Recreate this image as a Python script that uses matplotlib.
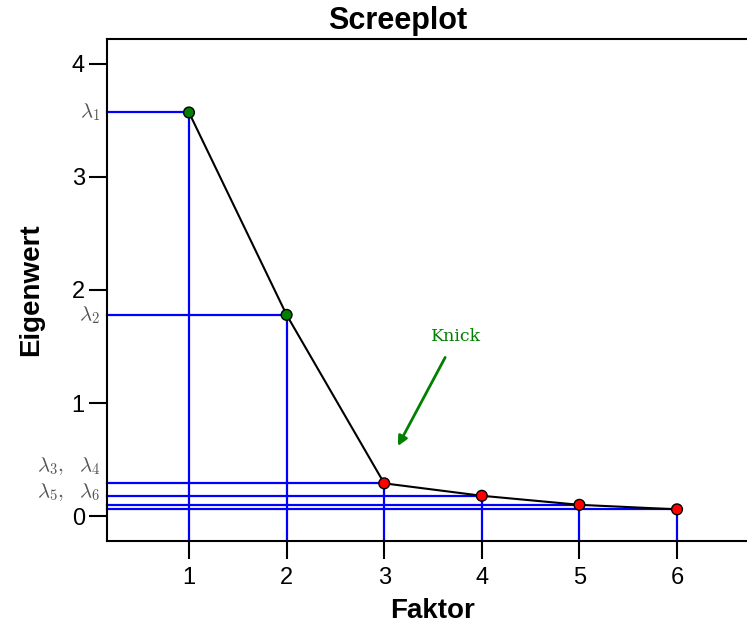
import matplotlib
matplotlib.use("Agg")
import matplotlib.pyplot as plt

faktor = [1, 2, 3, 4, 5, 6]
eigenwert = [3.57, 1.78, 0.29, 0.18, 0.10, 0.06]
point_colors = ["green", "green", "red", "red", "red", "red"]
lambda_labels = [r"$\lambda_1$", r"$\lambda_2$", r"$\lambda_3,\ \ \lambda_4$", r"$\lambda_5,\ \ \lambda_6$"]
lambda_label_y = [3.57, 1.78, 0.44, 0.21]
yticks = [0, 1, 2, 3, 4]
xticks = [1, 2, 3, 4, 5, 6]

plt.rcParams["font.family"] = ["Liberation Sans", "DejaVu Sans"]
plt.rcParams["mathtext.fontset"] = "cm"

fig = plt.figure(figsize=(7.47, 6.25), dpi=100)
ax = fig.add_axes([107/747, 84/625, 652/747, 502/625])
xlo, xhi = 0.16, 6.84
ylo, yhi = -0.22, 4.22
ax.set_xlim(xlo, xhi)
ax.set_ylim(ylo, yhi)

for x, y in zip(faktor, eigenwert):
    ax.plot([xlo, x], [y, y], color="blue", lw=1.6, zorder=2, clip_on=False)
    ax.plot([x, x], [ylo, y], color="blue", lw=1.6, zorder=2, clip_on=False)

ax.plot(faktor, eigenwert, color="black", lw=1.5, zorder=3)
ax.scatter(faktor, eigenwert, c=point_colors, edgecolors="black", s=60, linewidths=1.0, zorder=4)

for lab, y in zip(lambda_labels, lambda_label_y):
    ax.text(xlo - 0.07, y, lab, ha="right", va="center", fontsize=15, color="#555555")

ax.annotate("Knick", xy=(3.14, 0.62), xytext=(3.74, 1.59), ha="center", va="center",
            fontsize=12.5, color="green", family="DejaVu Serif",
            arrowprops=dict(arrowstyle="-|>", color="green", lw=2, mutation_scale=14,
                            shrinkA=8, shrinkB=0))

ax.set_xticks(xticks)
ax.set_yticks(yticks)
ax.tick_params(axis="both", length=13, width=1.5, labelsize=17, direction="out")
ax.tick_params(axis="x", pad=6)
ax.tick_params(axis="y", pad=3)
for s in ["left", "top", "bottom"]:
    ax.spines[s].set_linewidth(1.5)
ax.spines["right"].set_visible(False)

ax.set_xlabel("Faktor", fontsize=20, fontweight="bold", labelpad=6)
ax.set_ylabel("Eigenwert", fontsize=20, fontweight="bold", labelpad=20)
fig.text(398/747, 1 - 21/625, "Screeplot", ha="center", va="center", fontsize=22, fontweight="bold")

fig.savefig("out.png", dpi=100)
